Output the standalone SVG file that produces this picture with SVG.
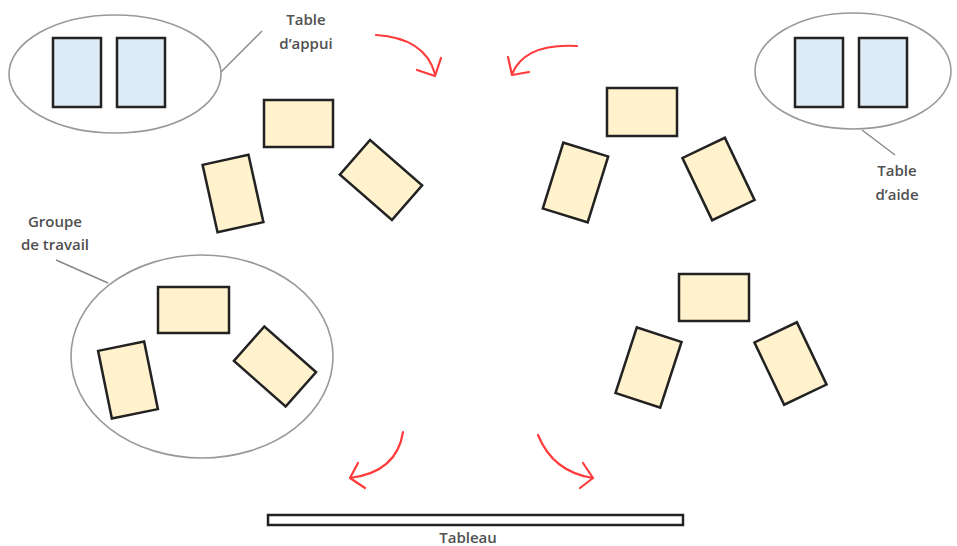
<svg xmlns="http://www.w3.org/2000/svg" width="957" height="546" viewBox="0 0 957 546">
<style>
.desk{fill:#FFF2CC;stroke:#222;stroke-width:2.5}
.aid{fill:#DDEBF7;stroke:#222;stroke-width:2.5}
.ring{fill:none;stroke:#999;stroke-width:1.6}
.lead{fill:none;stroke:#888;stroke-width:1.4}
.arr{fill:none;stroke:#FF3B3B;stroke-width:2.2;stroke-linecap:round;stroke-linejoin:round}
.lbl{font-family:"Open Sans","Liberation Sans",sans-serif;font-size:15px;font-weight:600;fill:#505050;text-anchor:middle}
</style>
<rect width="957" height="546" fill="#fff"/>

<g id="table-appui">
<ellipse class="ring" cx="115" cy="74" rx="106" ry="59"/>
<rect class="aid" x="53" y="38" width="48" height="69"/>
<rect class="aid" x="117" y="38" width="48" height="69"/>
<line class="lead" x1="221" y1="72" x2="262" y2="31"/>
<text class="lbl" x="306" y="25">Table</text>
<text class="lbl" x="306" y="49">d’appui</text>
</g>

<g id="table-aide">
<ellipse class="ring" cx="853" cy="71" rx="98" ry="58"/>
<rect class="aid" x="795" y="38" width="48" height="69"/>
<rect class="aid" x="859" y="38" width="48" height="69"/>
<line class="lead" x1="862" y1="130" x2="895" y2="155"/>
<text class="lbl" x="897" y="176">Table</text>
<text class="lbl" x="897" y="200">d’aide</text>
</g>

<g id="groupe-haut-gauche">
<rect class="desk" x="264" y="100" width="69" height="47"/>
<rect class="desk" x="-23.5" y="-34.5" width="47" height="69" transform="translate(233,193.5) rotate(-12.5)"/>
<rect class="desk" x="-34.5" y="-23" width="69" height="46" transform="translate(381,180) rotate(41)"/>
</g>

<g id="groupe-haut-droite">
<rect class="desk" x="607" y="88" width="70" height="48"/>
<rect class="desk" x="-23.5" y="-34.5" width="47" height="69" transform="translate(575.5,182.5) rotate(17.3)"/>
<rect class="desk" x="-23.5" y="-34.5" width="47" height="69" transform="translate(718.5,179) rotate(-25.5)"/>
</g>

<g id="groupe-travail">
<ellipse class="ring" cx="202" cy="356.5" rx="131" ry="101.5"/>
<rect class="desk" x="158" y="287" width="71" height="46"/>
<rect class="desk" x="-23.5" y="-34.5" width="47" height="69" transform="translate(128,380) rotate(-11.5)"/>
<rect class="desk" x="-34.5" y="-23" width="69" height="46" transform="translate(275,366.5) rotate(41.4)"/>
<line class="lead" x1="56" y1="260" x2="108" y2="283"/>
<text class="lbl" x="55" y="227">Groupe</text>
<text class="lbl" x="55" y="250">de travail</text>
</g>

<g id="groupe-bas-droite">
<rect class="desk" x="679" y="274" width="70" height="47"/>
<rect class="desk" x="-23.5" y="-34.5" width="47" height="69" transform="translate(648.5,367.5) rotate(18)"/>
<rect class="desk" x="-23.5" y="-34.5" width="47" height="69" transform="translate(790.5,363.5) rotate(-25.5)"/>
</g>

<g id="tableau">
<rect x="268" y="515" width="415" height="10" fill="#fff" stroke="#222" stroke-width="2.5"/>
<text class="lbl" x="468" y="543">Tableau</text>
</g>

<g id="connectors">
<path class="arr" d="M376,35 Q425,38 435,74"/>
<polyline class="arr" points="417,70 435,76 441,58"/>
<path class="arr" d="M577,46 Q525,43 512,74"/>
<polyline class="arr" points="508,57 512,75 529,72"/>
<path class="arr" d="M403,432 Q397,472 350,478"/>
<polyline class="arr" points="358,463 350,478 365,488"/>
<path class="arr" d="M538,435 Q553,472 593,478"/>
<polyline class="arr" points="583,463 593,478 580,488"/>
</g>
</svg>
